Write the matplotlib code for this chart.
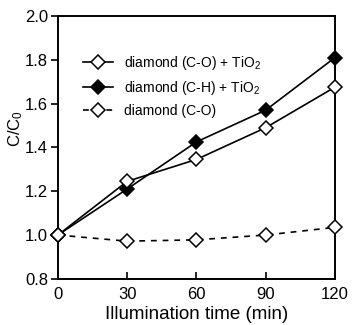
import matplotlib
matplotlib.use("Agg")
import matplotlib.pyplot as plt

plt.rcParams['font.family'] = ['Liberation Sans', 'DejaVu Sans']
plt.rcParams['mathtext.fontset'] = 'custom'
plt.rcParams['mathtext.rm'] = 'Liberation Sans'
plt.rcParams['mathtext.it'] = 'Liberation Sans'

# illumination time (min) and C/C0 for each sample
t = [0, 30, 60, 90, 120]
co_tio2 = [1.0, 1.245, 1.345, 1.49, 1.675]
ch_tio2 = [1.0, 1.21, 1.425, 1.57, 1.81]
co_only = [1.0, 0.972, 0.978, 1.0, 1.035]

xticks = [0, 30, 60, 90, 120]
yticks = [0.8, 1.0, 1.2, 1.4, 1.6, 1.8, 2.0]

fig = plt.figure(figsize=(3.53, 3.25), dpi=100)
ax = fig.add_axes([0.164, 0.142, 0.785, 0.809])

ms = 7.5
common = dict(color='black', lw=1.2, marker='D', ms=ms, mec='black',
              mew=1.1, clip_on=False)
ax.plot(t, ch_tio2, '-', mfc='black', label='diamond (C-H) + TiO$_2$',
        zorder=3, **common)
ax.plot(t, co_tio2, '-', mfc='white', label='diamond (C-O) + TiO$_2$',
        zorder=4, **common)
ax.plot(t, co_only, '--', mfc='white', dashes=(3.5, 3.5),
        label='diamond (C-O)', zorder=4, **common)

ax.set_xlim(0, 120)
ax.set_ylim(0.8, 2.0)
ax.set_xticks(xticks)
ax.set_yticks(yticks)
ax.set_yticklabels(['%.1f' % v for v in yticks])
ax.tick_params(axis='x', direction='in', length=5, width=1.2, labelsize=12, pad=6)
ax.tick_params(axis='y', direction='out', length=5, width=1.2, labelsize=12, pad=2)
for s in ax.spines.values():
    s.set_linewidth(1.4)

ax.set_xlabel('Illumination time (min)', fontsize=13.5, labelpad=3)
ax.set_ylabel('C/C$_0$', fontsize=12)
ax.yaxis.set_label_coords(-0.12, 0.57)

# legend order: C-O + TiO2, C-H + TiO2, C-O
h, l = ax.get_legend_handles_labels()
order = [1, 0, 2]
ax.legend([h[i] for i in order], [l[i] for i in order],
          loc='upper left', bbox_to_anchor=(0.09, 0.855), frameon=False,
          fontsize=10, handlelength=2.15, handletextpad=0.8,
          labelspacing=0.5, borderaxespad=0, borderpad=0)

fig.savefig('out.png', dpi=100)
